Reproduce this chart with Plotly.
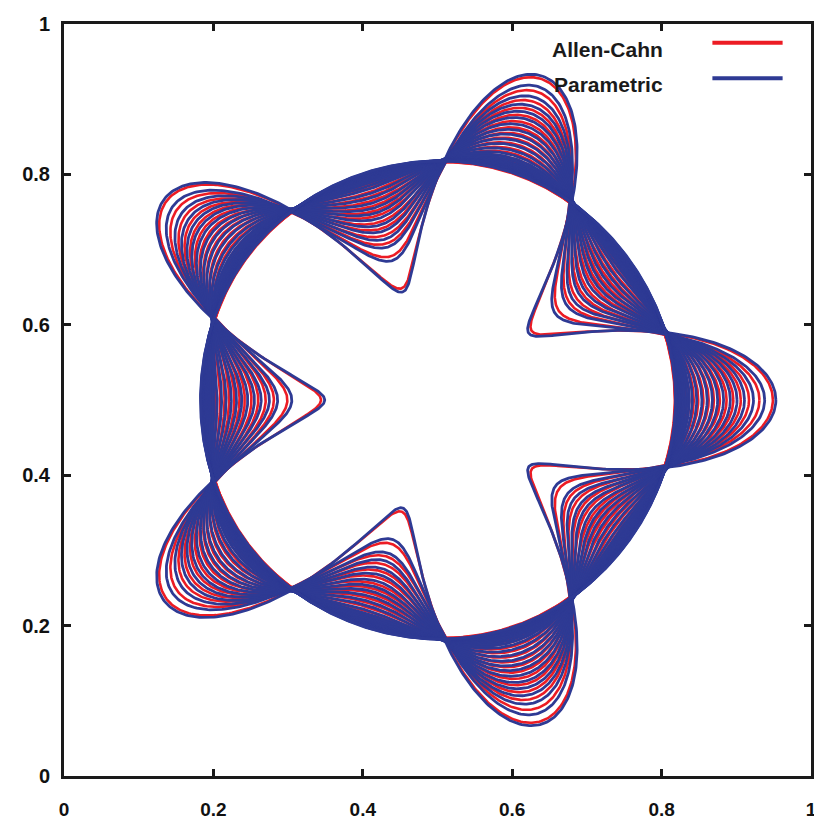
import numpy as np
import plotly.graph_objects as go

# ---- data ----
# Each closed curve is described by its radius at a petal tip (theta = 0)
# and at a notch bottom (theta = 36 deg), around the centre (0.5, 0.5).
centre_x = 0.5
centre_y = 0.5
n_fold = 5

param_tip = [0.453, 0.438, 0.423, 0.411, 0.401, 0.392, 0.383, 0.375, 0.368, 0.361,
             0.354, 0.347, 0.341, 0.337, 0.334, 0.331, 0.329, 0.327, 0.3255, 0.3243,
             0.3232, 0.3222, 0.3213, 0.3205, 0.3198, 0.3192, 0.3187]
param_notch = [0.151, 0.195, 0.214, 0.225, 0.236, 0.245, 0.254, 0.262, 0.269, 0.276,
               0.283, 0.289, 0.295, 0.299, 0.302, 0.305, 0.307, 0.309, 0.3105, 0.3117,
               0.3128, 0.3138, 0.3147, 0.3155, 0.3162, 0.3168, 0.3173]
param_radius = 0.318   # radius of the limiting circle (area kept)

ac_tip = [0.449, 0.431, 0.417, 0.406, 0.396, 0.387, 0.378, 0.370, 0.363, 0.356,
          0.349, 0.343, 0.337, 0.333, 0.330, 0.327, 0.325, 0.3235, 0.3222, 0.3211,
          0.3201, 0.3192, 0.3184, 0.3177]
ac_notch = [0.156, 0.201, 0.219, 0.230, 0.240, 0.249, 0.258, 0.265, 0.272, 0.279,
            0.285, 0.291, 0.296, 0.300, 0.303, 0.306, 0.308, 0.3095, 0.3108, 0.3119,
            0.3129, 0.3138, 0.3146, 0.3153]
ac_radius = 0.3165

x_ticks = [0, 0.2, 0.4, 0.6, 0.8, 1]
y_ticks = [0, 0.2, 0.4, 0.6, 0.8, 1]
x_tick_text = ["0", "0.2", "0.4", "0.6", "0.8", "1"]
y_tick_text = ["0", "0.2", "0.4", "0.6", "0.8", "1"]
series_names = ["Allen-Cahn", "Parametric"]

RED = "#ec1c24"
BLUE = "#2e3a94"

theta = np.linspace(0.0, 2.0 * np.pi, 1200)


def curve(tip, notch, radius):
    m = 0.5 * (tip + notch)
    a = 0.5 * (tip - notch)
    disc = max(6 * radius ** 2 - 2 * m ** 2 - 3 * a ** 2, 0.0)
    c = (m + np.sqrt(disc)) / 3.0
    b = m - c
    r = c + a * np.cos(n_fold * theta) + b * np.cos(2 * n_fold * theta)
    return centre_x + r * np.cos(theta), centre_y + r * np.sin(theta)


fig = go.Figure()

for t, n in zip(ac_tip, ac_notch):
    x, y = curve(t, n, ac_radius)
    fig.add_trace(go.Scatter(x=x, y=y, mode="lines", line=dict(color=RED, width=2.6),
                             name=series_names[0], showlegend=False, hoverinfo="skip"))

for t, n in zip(param_tip, param_notch):
    x, y = curve(t, n, param_radius)
    fig.add_trace(go.Scatter(x=x, y=y, mode="lines", line=dict(color=BLUE, width=2.8),
                             name=series_names[1], showlegend=False, hoverinfo="skip"))

# legend drawn gnuplot-style (text then sample line)
legend_font = dict(family="Liberation Sans, Arial, sans-serif", size=21, color="#1a1a1a",
                   weight="bold")
fig.add_annotation(x=0.805, y=0.966, xref="x", yref="y", text=series_names[0],
                   showarrow=False, xanchor="right", yanchor="middle", font=legend_font)
fig.add_annotation(x=0.805, y=0.920, xref="x", yref="y", text=series_names[1],
                   showarrow=False, xanchor="right", yanchor="middle", font=legend_font)
fig.add_shape(type="line", xref="x", yref="y", x0=0.868, x1=0.962, y0=0.975, y1=0.975,
              line=dict(color=RED, width=4))
fig.add_shape(type="line", xref="x", yref="y", x0=0.868, x1=0.962, y0=0.928, y1=0.928,
              line=dict(color=BLUE, width=4))

y_tick_font = dict(family="Liberation Sans, Arial, sans-serif", size=20, color="#111111",
                   weight="bold")
x_tick_font = dict(family="Liberation Sans, Arial, sans-serif", size=19, color="#111111",
                   weight="bold")
axis_common = dict(range=[0, 1], showgrid=False, zeroline=False, showline=True,
                   linecolor="#1a1a1a", linewidth=3, mirror="allticks", ticks="inside",
                   ticklen=7, tickwidth=2.5, tickcolor="#1a1a1a",
                   ticklabeloverflow="allow")

fig.update_layout(
    width=822, height=825,
    margin=dict(l=64, r=5, t=24, b=47),
    paper_bgcolor="white", plot_bgcolor="white",
    showlegend=False,
    xaxis=dict(tickvals=x_ticks, ticktext=x_tick_text, ticklabelstandoff=14,
               tickfont=x_tick_font, **axis_common),
    yaxis=dict(tickvals=y_ticks, ticktext=y_tick_text, ticklabelstandoff=7,
               tickfont=y_tick_font, **axis_common),
)

fig.write_html("out.html", config={"displayModeBar": False},
               post_script="document.body.style.margin='0px';"
                           "document.documentElement.style.overflow='hidden';"
                           "document.body.style.overflow='hidden';"
                           "document.body.style.height='825px';")
